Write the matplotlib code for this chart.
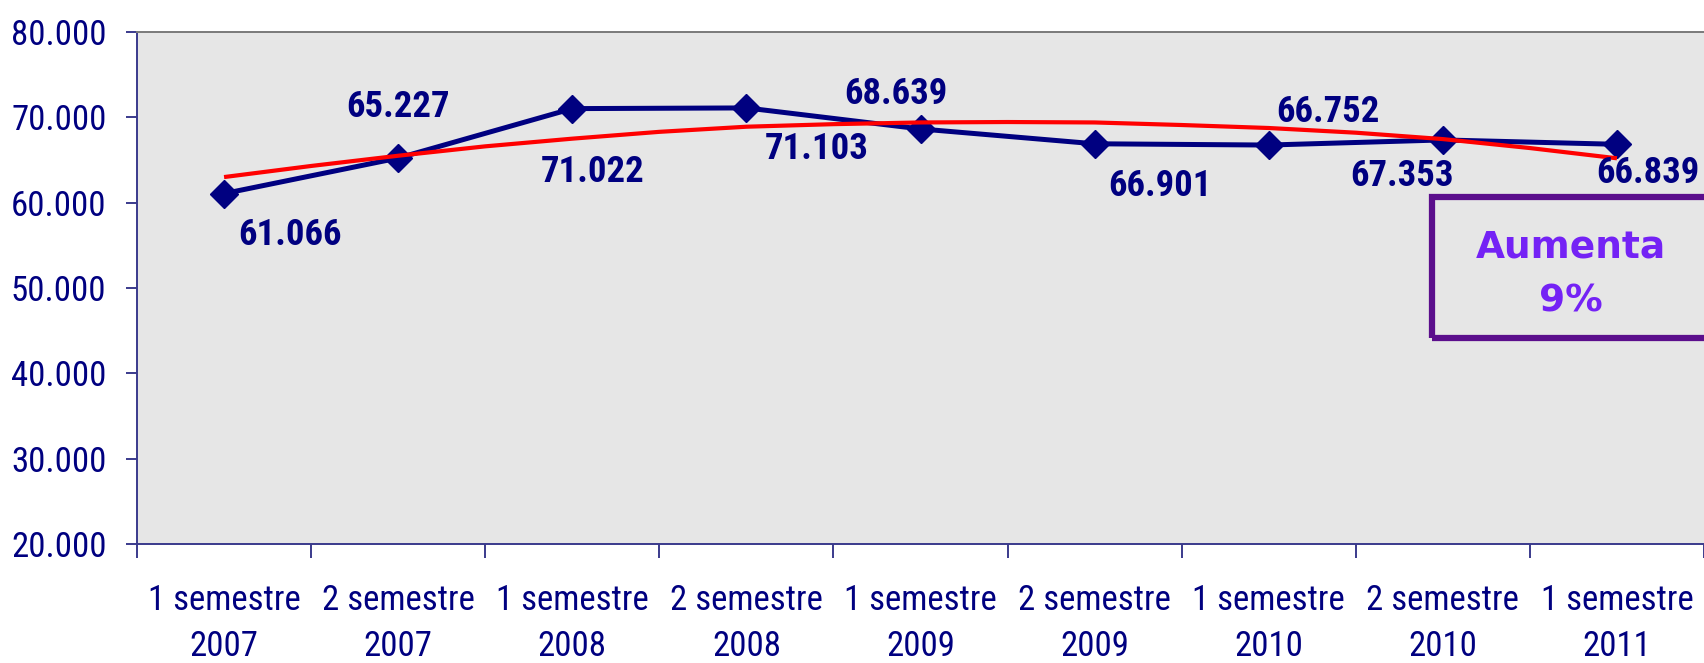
import matplotlib
matplotlib.use("Agg")
import matplotlib.pyplot as plt
from matplotlib import font_manager
from matplotlib.patches import Rectangle
from matplotlib.ticker import FixedLocator, FuncFormatter

# data
PERIODS = ['1 semestre\n2007', '2 semestre\n2007', '1 semestre\n2008',
           '2 semestre\n2008', '1 semestre\n2009', '2 semestre\n2009',
           '1 semestre\n2010', '2 semestre\n2010', '1 semestre\n2011']
VALUES = [61066, 65227, 71022, 71103, 68639, 66901, 66752, 67353, 66839]
# red trend curve, read every half category
TREND_X = [0, 0.5, 1, 1.5, 2, 2.5, 3, 3.5, 4, 4.5, 5, 5.5, 6, 6.5, 7, 7.5, 8]
TREND = [63000, 64300, 65500, 66600, 67500, 68300, 68900, 69200, 69400,
         69450, 69400, 69100, 68750, 68200, 67450, 66400, 65200]
BOX_LINES = ['Aumenta', '9%']

# label offsets in pixels (dx, dy), y up
LABEL_OFFSETS = [(66, -37), (0, 55), (20, -59), (70, -37), (-25, 39),
                 (65, -38), (59, 37), (-41, -32), (31, -25)]

NAVY = '#000080'

# look for a condensed sans face that also has a bold weight
FONTS = font_manager.fontManager.ttflist
NARROW = None
cand = {}
for f in FONTS:
    if ('Narrow' in f.name or 'Condensed' in f.name) and 'Mono' not in f.name \
            and 'Serif' not in f.name:
        cand.setdefault(f.name, set()).add(f.weight if isinstance(f.weight, int) else 400)
for pref in ('Liberation Sans Narrow', 'Arial Narrow', 'Roboto Condensed',
             'Open Sans Condensed'):
    if pref in cand:
        NARROW = (pref, 'normal')
        break
if NARROW is None:
    for name, weights in cand.items():
        if any(w >= 600 for w in weights):
            NARROW = (name, 'normal')
            break
if NARROW is None:
    for f in FONTS:
        if f.name == 'DejaVu Sans' and f.stretch == 'condensed':
            NARROW = ('DejaVu Sans', 'condensed')
            break
if NARROW is None and cand:
    NARROW = (next(iter(cand)), 'normal')
if NARROW is None:
    NARROW = ('Liberation Sans', 'normal')
    TICK_SIZE, LABEL_SIZE, XSPACING = 21.5, 24, 1.72
else:
    TICK_SIZE, LABEL_SIZE, XSPACING = 25, 26.5, 1.48


def thousands(v, pos=None):
    return f'{v:,.0f}'.replace(',', '.')


FIG = plt.figure(figsize=(17.04, 6.63), dpi=100)
AX = FIG.add_axes([137 / 1704, 1 - 544 / 663, 1 - 137 / 1704, 512 / 663])
AX.set_facecolor('#e6e6e6')

X = list(range(len(PERIODS)))
AX.plot(X, VALUES, color=NAVY, lw=3.6, marker='D', markersize=14,
        markerfacecolor=NAVY, markeredgecolor=NAVY, zorder=3)
AX.plot(TREND_X, TREND, color='#ff0000', lw=3.0, zorder=4, solid_capstyle='butt')

for xi, v, (dx, dy) in zip(X, VALUES, LABEL_OFFSETS):
    AX.annotate(thousands(v), (xi, v), xytext=(dx * 0.72, dy * 0.72),
                textcoords='offset points', ha='center', va='center_baseline',
                fontsize=LABEL_SIZE, fontweight='bold', family=NARROW[0],
                fontstretch=NARROW[1], color=NAVY, zorder=5)

AX.set_xlim(-0.5, len(PERIODS) - 0.5)
AX.set_ylim(20000, 80000)
AX.yaxis.set_major_locator(FixedLocator(range(20000, 80001, 10000)))
AX.yaxis.set_major_formatter(FuncFormatter(thousands))
AX.set_xticks(X)
AX.set_xticklabels(PERIODS, linespacing=XSPACING)
AX.xaxis.set_minor_locator(FixedLocator([i - 0.5 for i in range(len(PERIODS) + 1)]))

AX.tick_params(axis='x', which='major', length=0, pad=29, labelsize=TICK_SIZE,
               labelcolor=NAVY)
AX.tick_params(axis='x', which='minor', length=10, width=1.4, color='#3a3a8c',
               direction='out')
AX.tick_params(axis='y', length=8, width=1.4, color='#3a3a8c', pad=14,
               labelsize=TICK_SIZE, labelcolor=NAVY)
for lab in AX.get_xticklabels() + AX.get_yticklabels():
    lab.set_family(NARROW[0])
    lab.set_fontstretch(NARROW[1])

for side in ('left', 'bottom'):
    AX.spines[side].set_color('#3a3a8c')
    AX.spines[side].set_linewidth(1.4)
AX.spines['top'].set_color('#7a7a7a')
AX.spines['top'].set_linewidth(1.4)
AX.spines['right'].set_visible(False)

# "Aumenta 9%" box
FIG.patches.append(Rectangle((1432 / 1704, 1 - 338 / 663), 300 / 1704, 141 / 663,
                             transform=FIG.transFigure, fill=False,
                             edgecolor='#5b0e8c', lw=4.5, zorder=6))
for line, ypx in zip(BOX_LINES, (244, 297)):
    FIG.text(1571 / 1704, 1 - ypx / 663, line, ha='center', va='center_baseline',
             fontsize=27, fontweight='bold', family='DejaVu Sans',
             color='#7422f5', zorder=7)

FIG.savefig('out.png', dpi=100)
